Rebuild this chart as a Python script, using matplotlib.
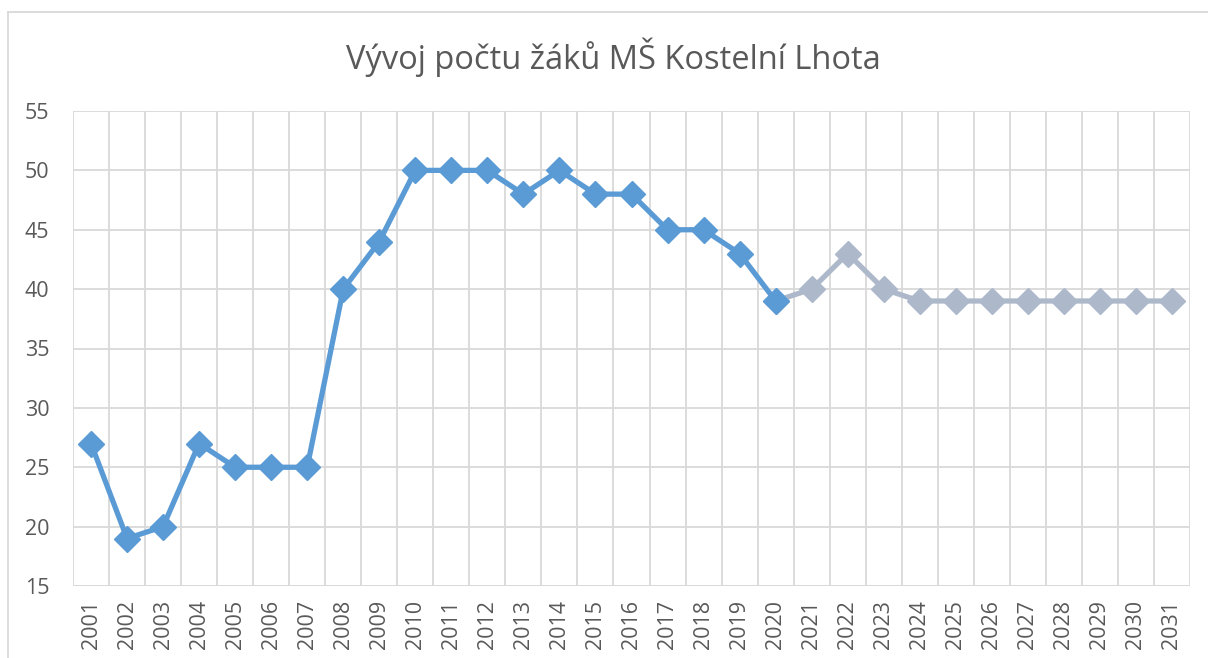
import matplotlib
matplotlib.use("Agg")
import matplotlib.pyplot as plt
from matplotlib.lines import Line2D

years = [str(y) for y in range(2001, 2032)]
actual = [27, 19, 20, 27, 25, 25, 25, 40, 44, 50, 50, 50, 48, 50, 48, 48, 45, 45, 43, 39]
forecast = [39, 40, 43, 40, 39, 39, 39, 39, 39, 39, 39, 39]  # 2020..2031
title = "Vývoj počtu žáků MŠ Kostelní Lhota"

plt.rcParams['font.family'] = ['Open Sans', 'DejaVu Sans']
text_col = '#595959'
grid_col = '#D9D9D9'

fig = plt.figure(figsize=(12.08, 6.58), dpi=100)
W, H = 1208, 658
left, right, top, bottom = 73, 1190, 111, 586
ax = fig.add_axes([left / W, 1 - bottom / H, (right - left) / W, (bottom - top) / H])

n = len(years)
x_act = list(range(len(actual)))
x_fc = list(range(len(actual) - 1, len(actual) - 1 + len(forecast)))

ax.plot(x_fc, forecast, color='#ADB9CA', lw=3.8, marker='D', markersize=13, zorder=3, solid_joinstyle='round')
ax.plot(x_act, actual, color='#5B9BD5', lw=3.8, marker='D', markersize=13, zorder=4, solid_joinstyle='round')

ax.set_xlim(-0.5, n - 0.5)
ax.set_ylim(15, 55)
ax.set_yticks(range(15, 56, 5))
ax.set_xticks(range(n))
ax.set_xticklabels(years, rotation=90, fontsize=15.5, color=text_col)
ax.tick_params(axis='y', labelsize=15.5, colors=text_col, length=0, pad=17)
ax.tick_params(axis='x', length=0, pad=10)
for lab in ax.get_yticklabels():
    lab.set_color(text_col)

ax.yaxis.grid(True, color=grid_col, lw=1.3)
ax.set_axisbelow(True)
for b in range(n + 1):
    ax.axvline(b - 0.5, color=grid_col, lw=1.3, zorder=0)
for s in ax.spines.values():
    s.set_visible(False)
ax.axhline(15, color=grid_col, lw=1.3, zorder=1)

fig.text(613 / W, 1 - 57 / H, title, ha='center', va='center', fontsize=23.5, color=text_col)

fig.add_artist(Line2D([8 / W, 8 / W], [0, 1 - 12 / H], transform=fig.transFigure, color=grid_col, lw=1.3))
fig.add_artist(Line2D([8 / W, 1], [1 - 12 / H, 1 - 12 / H], transform=fig.transFigure, color=grid_col, lw=1.3))

fig.savefig('out.png', dpi=100, facecolor='white')
